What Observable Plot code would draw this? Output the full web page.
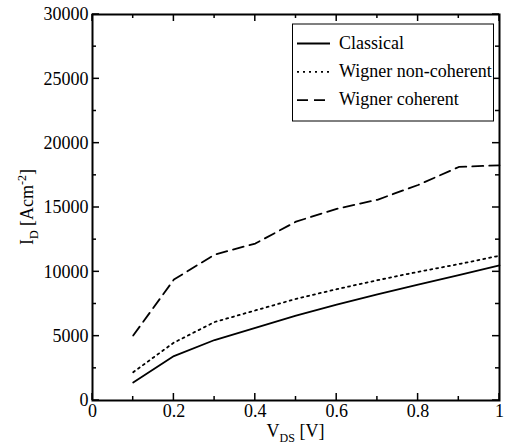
<!DOCTYPE html>
<html><head><meta charset="utf-8">
<script src="https://cdn.jsdelivr.net/npm/d3@7"></script>
<script src="https://cdn.jsdelivr.net/npm/@observablehq/plot@0.6"></script>
<style>body{margin:0;background:#fff} svg{display:block} svg text{font-family:"Liberation Serif","DejaVu Serif",serif !important}</style>
</head><body><div id="chart"></div>
<script>
const vds = [0.1, 0.2, 0.3, 0.4, 0.5, 0.6, 0.7, 0.8, 0.9, 1.0];
const classical = [1400, 3450, 4700, 5650, 6600, 7450, 8250, 9000, 9750, 10500];
const wignerNonCoherent = [2200, 4500, 6100, 7000, 7900, 8650, 9350, 10000, 10600, 11250];
const wignerCoherent = [5050, 9400, 11340, 12200, 13900, 14900, 15600, 16750, 18150, 18280];
const seriesNames = ["Classical", "Wigner non-coherent", "Wigner coherent"];
const xTicks = [0, 0.2, 0.4, 0.6, 0.8, 1];
const xMinor = [0.1, 0.3, 0.5, 0.7, 0.9];
const yTicks = [0, 5000, 10000, 15000, 20000, 25000, 30000];
const yMinor = [2500, 7500, 12500, 17500, 22500, 27500];

const seriesValues = [classical, wignerNonCoherent, wignerCoherent];
const dashes = [undefined, "2,4", "11,6"];
const rows = [];
seriesNames.forEach((name, i) => vds.forEach((v, j) => rows.push({series: name, vds: v, id: seriesValues[i][j]})));

const font = "Liberation Serif, DejaVu Serif, serif";
const plot = Plot.plot({
  width: 505, height: 444,
  marginLeft: 92, marginRight: 6, marginTop: 14, marginBottom: 44,
  style: {fontFamily: font, fontSize: "18px", background: "#fff", color: "#000", overflow: "visible"},
  x: {domain: [0, 1], ticks: xTicks, tickFormat: d => String(d), tickSize: 0, tickPadding: 4, label: null},
  y: {domain: [0, 30000], ticks: yTicks, tickFormat: d => String(d), tickSize: 0, tickPadding: 4, label: null},
  marks: [
    ...seriesNames.map((name, i) => Plot.line(rows.filter(r => r.series === name), {
      x: "vds", y: "id", stroke: "#000", strokeWidth: 1.8,
      ...(dashes[i] ? {strokeDasharray: dashes[i]} : {})
    })),
    Plot.frame({stroke: "#000", strokeWidth: 2})
  ]
});
document.getElementById("chart").appendChild(plot);

const svg = d3.select(plot);
const sx = plot.scale("x"), sy = plot.scale("y");
const X0 = sx.apply(0), X1 = sx.apply(1), Y0 = sy.apply(0), Y1 = sy.apply(30000);
const tg = svg.append("g").attr("stroke", "#000").attr("stroke-width", 1.5);
function xt(v, len) {
  const x = sx.apply(v);
  tg.append("line").attr("x1", x).attr("x2", x).attr("y1", Y0).attr("y2", Y0 - len);
  tg.append("line").attr("x1", x).attr("x2", x).attr("y1", Y1).attr("y2", Y1 + len);
}
function yt(v, len) {
  const y = sy.apply(v);
  tg.append("line").attr("y1", y).attr("y2", y).attr("x1", X0).attr("x2", X0 + len);
  tg.append("line").attr("y1", y).attr("y2", y).attr("x1", X1).attr("x2", X1 - len);
}
xTicks.forEach(v => xt(v, 7)); xMinor.forEach(v => xt(v, 4));
yTicks.forEach(v => yt(v, 7)); yMinor.forEach(v => yt(v, 4));

// axis titles
const xl = svg.append("text").attr("x", (X0 + X1) / 2).attr("y", 437).attr("text-anchor", "middle")
  .attr("font-size", 18).attr("fill", "#000");
xl.append("tspan").text("V");
xl.append("tspan").attr("dy", 5).attr("font-size", 12).text("DS");
xl.append("tspan").attr("dy", -5).text(" [V]");

const yl = svg.append("text").attr("transform", `translate(33,${(Y0 + Y1) / 2}) rotate(-90)`).attr("text-anchor", "middle")
  .attr("font-size", 18).attr("fill", "#000");
yl.append("tspan").text("I");
yl.append("tspan").attr("dy", 5).attr("font-size", 12).text("D");
yl.append("tspan").attr("dy", -5).text(" [Acm");
yl.append("tspan").attr("dy", -7).attr("font-size", 12).text("-2");
yl.append("tspan").attr("dy", 7).text("]");

// legend
const lg = svg.append("g");
lg.append("rect").attr("x", 292.5).attr("y", 24).attr("width", 201).attr("height", 97)
  .attr("fill", "#fff").attr("stroke", "#000").attr("stroke-width", 1);
seriesNames.forEach((name, i) => {
  const y = 43.5 + i * 28.3;
  const ln = lg.append("line").attr("x1", 297).attr("x2", 330).attr("y1", y).attr("y2", y)
    .attr("stroke", "#000").attr("stroke-width", 1.8);
  if (dashes[i]) ln.attr("stroke-dasharray", dashes[i]);
  lg.append("text").attr("x", 339).attr("y", y + 5).attr("text-anchor", "start").attr("font-size", 18)
    .attr("fill", "#000").text(name);
});
</script></body></html>
